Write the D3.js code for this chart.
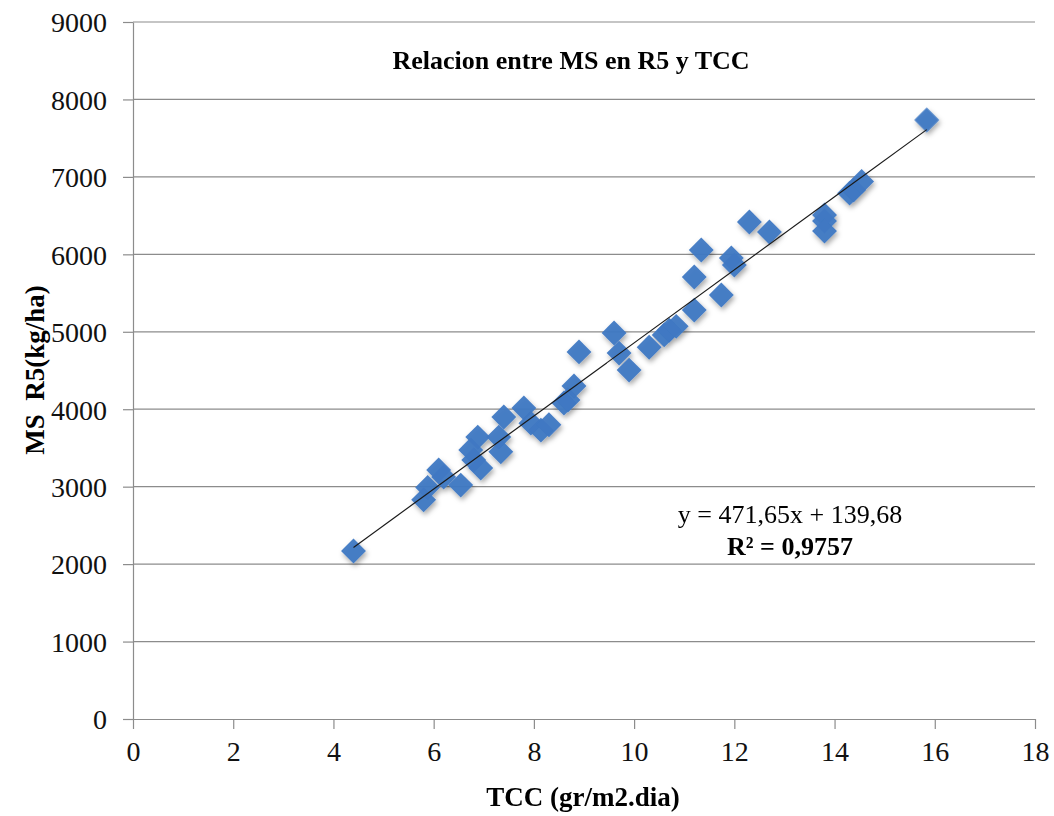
<!DOCTYPE html>
<html>
<head>
<meta charset="utf-8">
<script src="https://cdn.jsdelivr.net/npm/d3@7"></script>
<style>
  body { margin: 0; background: #fff; }
  svg { display: block; font-family: "Liberation Serif", "Times New Roman", serif; }
  .grid line { stroke: #8c8c8c; stroke-width: 1.2; }
  .axis path, .axis line { stroke: #8c8c8c; stroke-width: 1.2; }
  .axis text { fill: #111; font-size: 28px; font-family: "Liberation Serif", "Times New Roman", serif; }
</style>
</head>
<body>
<div id="chart"></div>
<script>
// TCC (gr/m2.dia)
var tcc = [4.4, 5.8, 5.88, 6.1, 6.2, 6.54, 6.74, 6.8, 6.88, 6.94, 7.3, 7.34, 7.4,
  7.8, 7.94, 8.14, 8.3, 8.6, 8.68, 8.8, 8.9, 9.6, 9.7, 9.9, 10.3, 10.6, 10.7,
  10.84, 11.2, 11.2, 11.34, 11.74, 11.94, 12.0, 12.3, 12.7, 13.8, 13.8, 13.8,
  14.3, 14.38, 14.54, 15.84];
// MS R5 (kg/ha)
var msR5 = [2170, 2830, 2990, 3215, 3125, 3020, 3475, 3345, 3640, 3240, 3640, 3450, 3900,
  4016, 3820, 3730, 3800, 4080, 4120, 4300, 4740, 4985, 4725, 4505, 4800, 4960, 5020,
  5070, 5280, 5707, 6056, 5475, 5953, 5862, 6418, 6289, 6508, 6430, 6300,
  6790, 6830, 6940, 7735];
var xTicks = [0, 2, 4, 6, 8, 10, 12, 14, 16, 18];
var yTicks = [0, 1000, 2000, 3000, 4000, 5000, 6000, 7000, 8000, 9000];
var slope = 471.65, intercept = 139.68;

var width = 1054, height = 816;
var margin = { left: 133, right: 19, top: 22, bottom: 97 };

var svg = d3.select("#chart").append("svg")
  .attr("width", width)
  .attr("height", height);

var x = d3.scaleLinear().domain([0, 18]).range([margin.left, width - margin.right]);
var y = d3.scaleLinear().domain([0, 9000]).range([height - margin.bottom, margin.top]);

var defs = svg.append("defs");
var shadow = defs.append("filter").attr("id", "shadow")
  .attr("x", "-50%").attr("y", "-50%").attr("width", "200%").attr("height", "200%");
shadow.append("feDropShadow")
  .attr("dx", 1.5).attr("dy", 3).attr("stdDeviation", 2.5)
  .attr("flood-color", "#000").attr("flood-opacity", 0.35);

// horizontal gridlines
svg.append("g").attr("class", "grid")
  .selectAll("line")
  .data(yTicks.filter(function(d) { return d > 0; }))
  .enter().append("line")
  .attr("x1", x(0)).attr("x2", x(18))
  .attr("y1", function(d) { return y(d); })
  .attr("y2", function(d) { return y(d); });

var xAxis = svg.append("g").attr("class", "axis")
  .attr("transform", "translate(0," + y(0) + ")")
  .call(d3.axisBottom(x).tickValues(xTicks).tickFormat(d3.format("d"))
    .tickSize(10).tickPadding(12).tickSizeOuter(0));
xAxis.attr("font-family", null).attr("font-size", null);
xAxis.selectAll("text").attr("dy", "0.72em");

var yAxis = svg.append("g").attr("class", "axis")
  .attr("transform", "translate(" + x(0) + ",0)")
  .call(d3.axisLeft(y).tickValues(yTicks).tickFormat(d3.format("d"))
    .tickSize(10).tickPadding(16).tickSizeOuter(0));
yAxis.attr("font-family", null).attr("font-size", null);
yAxis.selectAll("text").attr("dy", "0.35em");

// markers
var diamond = d3.symbol().type(d3.symbolSquare).size(310);
svg.append("g").attr("filter", "url(#shadow)")
  .selectAll("path")
  .data(d3.range(tcc.length))
  .enter().append("path")
  .attr("d", diamond)
  .attr("transform", function(i) {
    return "translate(" + x(tcc[i]) + "," + y(msR5[i]) + ") rotate(45)";
  })
  .attr("fill", "#3f78c3")
  .attr("fill-opacity", 0.95);

// linear trendline
svg.append("line")
  .attr("x1", x(d3.min(tcc))).attr("y1", y(slope * d3.min(tcc) + intercept))
  .attr("x2", x(d3.max(tcc))).attr("y2", y(slope * d3.max(tcc) + intercept))
  .attr("stroke", "#1a1a1a").attr("stroke-width", 1.1);

// texts
svg.append("text")
  .attr("x", 571).attr("y", 69)
  .attr("text-anchor", "middle")
  .attr("font-size", 26).attr("font-weight", "bold")
  .text("Relacion entre MS en R5 y TCC");

svg.append("text")
  .attr("x", 790).attr("y", 523)
  .attr("text-anchor", "middle")
  .attr("font-size", 26)
  .text("y = 471,65x + 139,68");

svg.append("text")
  .attr("x", 790).attr("y", 555)
  .attr("text-anchor", "middle")
  .attr("font-size", 26).attr("font-weight", "bold")
  .text("R² = 0,9757");

svg.append("text")
  .attr("x", 583).attr("y", 806)
  .attr("text-anchor", "middle")
  .attr("font-size", 27).attr("font-weight", "bold")
  .text("TCC (gr/m2.dia)");

svg.append("text")
  .attr("transform", "translate(44,370) rotate(-90)")
  .attr("text-anchor", "middle")
  .attr("font-size", 27).attr("font-weight", "bold")
  .style("white-space", "pre")
  .text("MS  R5(kg/ha)");
</script>
</body>
</html>
